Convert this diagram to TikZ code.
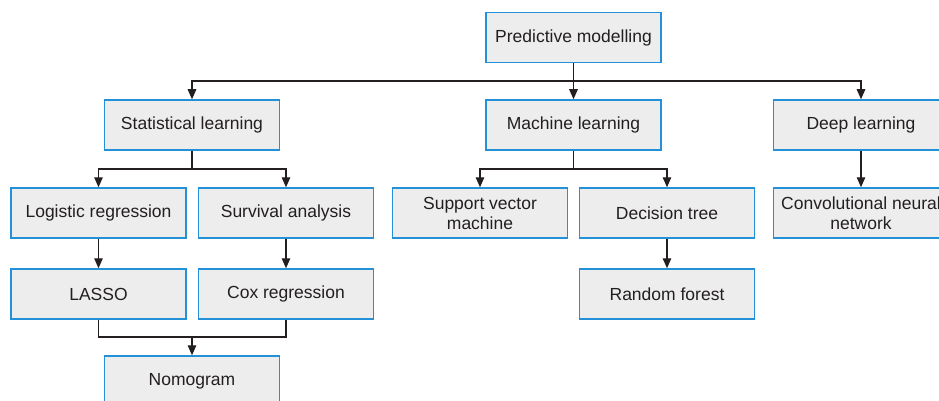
\documentclass[tikz,border=0pt]{standalone}
\usepackage{fontspec}
\setmainfont{Liberation Sans}
\usetikzlibrary{arrows.meta}
\definecolor{boxfill}{HTML}{EDEDED}
\definecolor{boxline}{HTML}{2390D8}
\definecolor{ink}{HTML}{231F20}
\tikzset{
  box/.style={draw=boxline, fill=boxfill, line width=1.5pt, minimum width=175pt,
    minimum height=50pt, inner sep=2pt, align=center, text=ink,
    font=\fontsize{17.5}{20}\selectfont},
  link/.style={draw=ink, line width=1.3pt},
  arr/.style={link, -{Triangle[length=10pt,width=8.5pt]}}
}
\begin{document}
\begin{tikzpicture}[x=1pt,y=-1pt]
\useasboundingbox (0,0) rectangle (939,401);

% top level
\node[box] (pm) at (573.5,37.5) {Predictive modelling};

% second level
\node[box] (sl) at (192,125) {Statistical learning};
\node[box] (ml) at (573.5,125) {Machine learning};
\node[box] (dl) at (861,125) {Deep learning};

% statistical learning branch
\node[box] (lr) at (98.5,213) {Logistic regression};
\node[box] (sa) at (286,213) {Survival analysis};
\node[box] (la) at (98.5,294) {LASSO};
\node[box] (cr) at (286,294) {Cox regression};
\node[box] (nm) at (192,381) {Nomogram};

% machine learning branch
\node[box] (svm) at (480,213) {Support vector\\machine};
\node[box] (dt) at (667,213) {Decision tree};
\node[box] (rf) at (667,294) {Random forest};

% deep learning branch
\node[box] (cnn) at (861,213) {Convolutional neural\\network};

% junction points
\coordinate (j0) at (573.5,81);
\coordinate (j1) at (192,169);
\coordinate (j2) at (573.5,169);
\coordinate (j3) at (192,337);

% connectors from the root
\draw[link] (pm.south) -- (j0);
\draw[arr] (j0) -| (sl.north);
\draw[arr] (j0) -- (ml.north);
\draw[arr] (j0) -| (dl.north);

% statistical learning
\draw[link] (sl.south) -- (j1);
\draw[arr] (j1) -| (lr.north);
\draw[arr] (j1) -| (sa.north);
\draw[arr] (lr.south) -- (la.north);
\draw[arr] (sa.south) -- (cr.north);
\draw[link] (la.south) |- (j3);
\draw[link] (cr.south) |- (j3);
\draw[arr] (j3) -- (nm.north);

% machine learning
\draw[link] (ml.south) -- (j2);
\draw[arr] (j2) -| (svm.north);
\draw[arr] (j2) -| (dt.north);
\draw[arr] (dt.south) -- (rf.north);

% deep learning
\draw[arr] (dl.south) -- (cnn.north);
\end{tikzpicture}
\end{document}
